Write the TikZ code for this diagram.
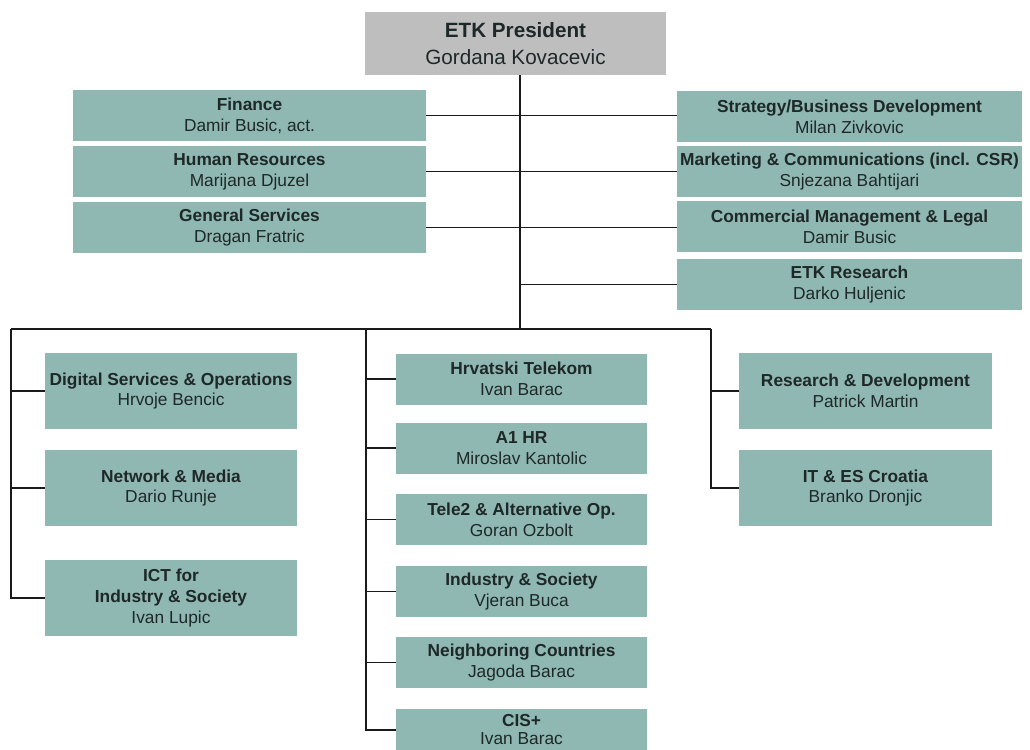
\documentclass[tikz,border=0pt]{standalone}
\usepackage{fontspec}
\setmainfont{Liberation Sans}
\definecolor{boxc}{HTML}{8FB8B3}
\definecolor{presc}{HTML}{BEBEBE}
\definecolor{txt}{HTML}{1E2828}
\definecolor{ln}{HTML}{1A1A1A}
\begin{document}
\begin{tikzpicture}[x=0.75pt,y=-0.75pt,
  base/.style={fill=boxc, inner sep=0pt, align=center, text=txt, font=\fontsize{13}{15.6}\selectfont},
  lbox/.style={base, minimum width=264.75pt, minimum height=38.25pt},
  rbox/.style={base, minimum width=258.75pt, minimum height=38.25pt},
  sbox/.style={base, minimum width=189pt, minimum height=57pt},
  wbox/.style={base, minimum width=189.75pt, minimum height=57pt},
  cbox/.style={base, minimum width=188.25pt, minimum height=38.25pt},
  presbox/.style={fill=presc, inner sep=0pt, align=center, text=txt, minimum width=225.75pt, minimum height=47.25pt, font=\fontsize{15.5}{20}\selectfont},
  conn/.style={draw=ln, line width=0.9pt}]
\useasboundingbox (0,0) rectangle (1030,749);
\clip (0,0) rectangle (1030,749);
\fill[white] (0,0) rectangle (1030,749);

% President
\node[presbox] (pres) at (515.5,43.5) {{\bfseries ETK President}\\Gordana Kovacevic};

% left staff
\node[lbox] (fin) at (249.5,115.5) {{\bfseries Finance}\\Damir Busic, act.};
\node[lbox] (hr)  at (249.5,171.5) {{\bfseries Human Resources}\\Marijana Djuzel};
\node[lbox] (gs)  at (249.5,227.5) {{\bfseries General Services}\\Dragan Fratric};

% right staff
\node[rbox] (strat) at (849.5,116.5) {{\bfseries Strategy/Business Development}\\Milan Zivkovic};
\node[rbox] (mkt)   at (849.5,171.5) {{\bfseries Marketing \& Communications (incl. CSR)}\\Snjezana Bahtijari};
\node[rbox] (com)   at (849.5,226.5) {{\bfseries Commercial Management \& Legal}\\Damir Busic};
\node[rbox] (etkr)  at (849.5,284.5) {{\bfseries ETK Research}\\Darko Huljenic};

% left column
\node[sbox] (dig) at (171,391) {{\bfseries Digital Services \& Operations}\\Hrvoje Bencic};
\node[sbox] (net) at (171,488) {{\bfseries Network \& Media}\\Dario Runje};
\node[sbox] (ict) at (171,598) {{\bfseries ICT for}\\{\bfseries Industry \& Society}\\Ivan Lupic};

% center column
\node[cbox] (hrv)  at (521.5,379)   {{\bfseries Hrvatski Telekom}\\Ivan Barac};
\node[cbox] (a1)   at (521.5,448)   {{\bfseries A1 HR}\\Miroslav Kantolic};
\node[cbox] (tele) at (521.5,519.5) {{\bfseries Tele2 \& Alternative Op.}\\Goran Ozbolt};
\node[cbox] (ind)  at (521.5,591.5) {{\bfseries Industry \& Society}\\Vjeran Buca};
\node[cbox] (nei)  at (521.5,662.5) {{\bfseries Neighboring Countries}\\Jagoda Barac};
\node[cbox, minimum height=31pt, font=\fontsize{13}{13.5}\selectfont] (cis) at (521.5,730) {{\bfseries CIS+}\\Ivan Barac};

% right column
\node[wbox] (rd) at (865.5,391) {{\bfseries Research \& Development}\\Patrick Martin};
\node[wbox] (it) at (865.5,488) {{\bfseries IT \& ES Croatia}\\Branko Dronjic};

% coordinates for the bus
\coordinate (t)  at (520,329);
\coordinate (bl) at (11,329);
\coordinate (bc) at (366,329);
\coordinate (br) at (711,329);

% trunk
\draw[conn] (pres.south -| t) -- (t);
\draw[conn] (fin.east) -- (fin.east -| strat.west);
\draw[conn] (hr.east) -- (hr.east -| mkt.west);
\draw[conn] (gs.east) -- (gs.east -| com.west);
\draw[conn] (etkr.west -| t) -- (etkr.west);

% bus
\draw[conn] (bl) -- (br);
\draw[conn] (bl) -- (ict.west -| bl) -- (ict.west);
\draw[conn] (dig.west -| bl) -- (dig.west);
\draw[conn] (net.west -| bl) -- (net.west);

\draw[conn] (bc) -- (cis.west -| bc) -- (cis.west);
\draw[conn] (hrv.west -| bc) -- (hrv.west);
\draw[conn] (a1.west -| bc) -- (a1.west);
\draw[conn] (tele.west -| bc) -- (tele.west);
\draw[conn] (ind.west -| bc) -- (ind.west);
\draw[conn] (nei.west -| bc) -- (nei.west);

\draw[conn] (br) -- (it.west -| br) -- (it.west);
\draw[conn] (rd.west -| br) -- (rd.west);
\end{tikzpicture}
\end{document}
